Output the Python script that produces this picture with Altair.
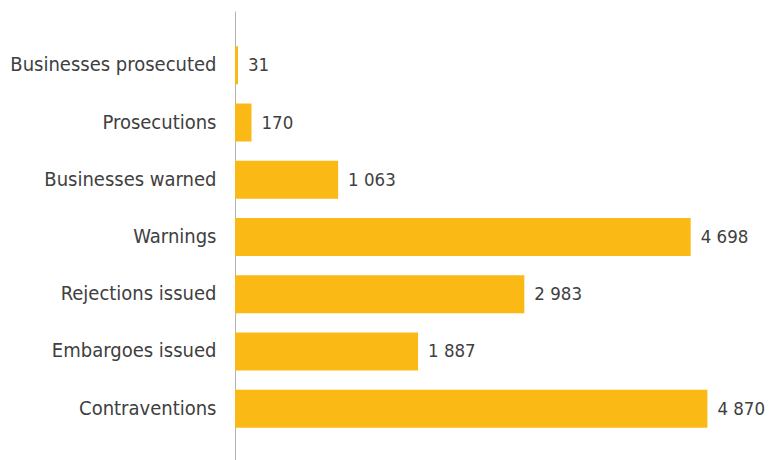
import altair as alt
import pandas as pd

categories = [
    "Businesses prosecuted",
    "Prosecutions",
    "Businesses warned",
    "Warnings",
    "Rejections issued",
    "Embargoes issued",
    "Contraventions",
]
values = [31, 170, 1063, 4698, 2983, 1887, 4870]

df = pd.DataFrame({"category": categories, "value": values})
df["label"] = [f"{v:,}".replace(",", " ") for v in values]

FONT = "Liberation Sans Narrow, DejaVu Sans Condensed, Roboto, sans-serif"
TEXT_COLOR = "#404040"

y_enc = alt.Y(
    "category:N",
    sort=categories,
    scale=alt.Scale(paddingInner=0.336, paddingOuter=0.616),
    axis=alt.Axis(
        title=None,
        ticks=False,
        grid=False,
        domainColor="#b3b3b3",
        domainWidth=1,
        labelFont=FONT,
        labelFontSize=20,
        labelColor=TEXT_COLOR,
        labelPadding=19,
        labelLimit=300,
    ),
)
x_enc = alt.X(
    "value:Q",
    scale=alt.Scale(domain=[0, 5000], nice=False),
    axis=None,
)

bars = alt.Chart(df).mark_bar(color="#FBB916").encode(y=y_enc, x=x_enc)
text = alt.Chart(df).mark_text(
    align="left", baseline="middle", dx=10, font=FONT, fontSize=18.5, color=TEXT_COLOR
).encode(y=alt.Y("category:N", sort=categories), x="value:Q", text="label:N")

chart = (
    alt.layer(bars, text)
    .properties(
        width=485,
        height=452,
        autosize=alt.AutoSizeParams(type="none"),
        padding={"left": 227, "top": 3, "right": 46, "bottom": 0},
    )
    .configure_view(stroke=None)
)

chart.save("out.html", embed_options={"renderer": "svg", "actions": False})
